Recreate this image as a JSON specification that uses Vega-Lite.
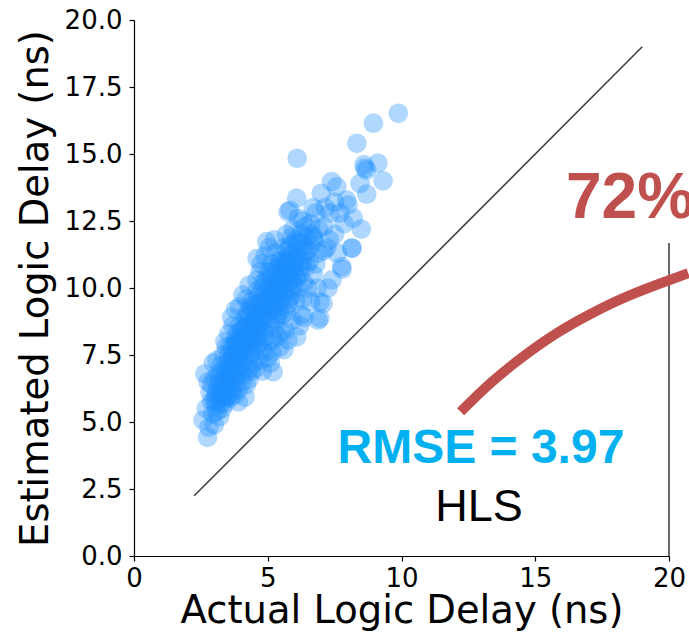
{
  "$schema": "https://vega.github.io/schema/vega-lite/v6.json",
  "width": 535,
  "height": 536,
  "autosize": {"type": "none"},
  "padding": {"left": 134, "top": 20, "right": 20, "bottom": 77},
  "background": "white",
  "config": {
    "view": {"stroke": null},
    "axis": {
      "domainColor": "#000", "tickColor": "#000", "labelColor": "#000", "titleColor": "#000",
      "labelFont": "DejaVu Sans", "titleFont": "DejaVu Sans",
      "labelFontSize": 26, "titleFontSize": 38.5, "titleFontWeight": "normal",
      "tickSize": 5, "grid": false, "domainWidth": 1.2, "tickWidth": 1.2,
      "labelFlush": false, "labelOverlap": false
    }
  },
  "datasets": {
    "diag": [{"x": 2.25, "y": 2.25}, {"x": 19, "y": 19}],
    "frame": [{"x": 20, "y": 0, "y2": 11.68}],
    "curve": [
      {"x": 12.21, "y": 5.38}, {"x": 13.31, "y": 6.44}, {"x": 14.55, "y": 7.44}, {"x": 15.8, "y": 8.31},
      {"x": 17.05, "y": 9.02}, {"x": 18.29, "y": 9.62}, {"x": 19.54, "y": 10.12}, {"x": 20.72, "y": 10.55}
    ],
    "notes": [
      {"x": 12.97, "y": 3.47, "label": "RMSE = 3.97"},
      {"x": 12.9, "y": 1.32, "label": "HLS"},
      {"x": 16.15, "y": 12.61, "label": "72%"}
    ],
    "points": [
      {"x":2.75,"y":4.43},{"x":2.58,"y":5.07},{"x":2.9,"y":5.76},{"x":2.77,"y":6.5},{"x":2.96,"y":7.2},{"x":2.7,"y":5.5},{"x":2.85,"y":6.1},{"x":3.0,"y":4.9},{"x":2.65,"y":6.8},{"x":2.95,"y":5.3},{"x":2.8,"y":4.8},{"x":3.0,"y":6.6},
      {"x":3.1,"y":5.4},{"x":3.2,"y":5.9},{"x":3.3,"y":6.2},{"x":3.15,"y":6.8},{"x":3.4,"y":5.7},{"x":3.25,"y":7.1},{"x":3.45,"y":6.5},{"x":3.05,"y":6.0},{"x":3.35,"y":7.5},{"x":3.2,"y":5.2},{"x":3.5,"y":6.0},{"x":3.4,"y":6.9},{"x":3.1,"y":7.3},{"x":3.3,"y":5.5},{"x":3.45,"y":7.8},{"x":3.15,"y":6.3},{"x":3.35,"y":6.6},{"x":3.25,"y":5.7},{"x":3.5,"y":7.2},{"x":3.05,"y":5.6},{"x":3.4,"y":8.0},{"x":3.3,"y":6.9},{"x":3.2,"y":6.5},{"x":3.45,"y":5.9},{"x":3.5,"y":6.7},
      {"x":3.6,"y":5.9},{"x":3.7,"y":6.3},{"x":3.8,"y":6.8},{"x":3.9,"y":5.75},{"x":3.65,"y":7.4},{"x":3.75,"y":7.9},{"x":3.85,"y":8.3},{"x":3.95,"y":7.1},{"x":3.6,"y":6.6},{"x":3.7,"y":8.6},{"x":3.8,"y":9.2},{"x":3.9,"y":8.0},{"x":3.55,"y":7.0},{"x":3.65,"y":6.1},{"x":3.75,"y":7.3},{"x":3.85,"y":6.5},{"x":3.95,"y":8.6},{"x":4.0,"y":7.6},{"x":3.6,"y":7.8},{"x":3.7,"y":6.9},{"x":3.8,"y":7.6},{"x":3.9,"y":6.2},{"x":3.55,"y":8.3},{"x":3.65,"y":8.9},{"x":3.75,"y":6.0},{"x":3.85,"y":7.0},{"x":3.95,"y":9.3},{"x":3.7,"y":7.5},{"x":3.8,"y":8.1},{"x":3.9,"y":7.4},
      {"x":4.15,"y":5.93},{"x":4.07,"y":9.74},{"x":4.05,"y":6.5},{"x":4.1,"y":7.2},{"x":4.2,"y":7.8},{"x":4.3,"y":8.3},{"x":4.4,"y":6.9},{"x":4.25,"y":9.1},{"x":4.35,"y":7.5},{"x":4.45,"y":8.8},{"x":4.1,"y":8.5},{"x":4.2,"y":6.4},{"x":4.3,"y":7.0},{"x":4.4,"y":9.5},{"x":4.05,"y":7.9},{"x":4.15,"y":8.9},{"x":4.25,"y":7.3},{"x":4.35,"y":8.0},{"x":4.45,"y":7.6},{"x":4.5,"y":9.0},{"x":4.2,"y":9.6},{"x":4.3,"y":6.6},{"x":4.4,"y":8.4},{"x":4.1,"y":6.8},{"x":4.25,"y":8.6},{"x":4.35,"y":9.3},{"x":4.45,"y":7.2},{"x":4.15,"y":7.5},{"x":4.5,"y":8.1},{"x":4.3,"y":10.1},
      {"x":4.55,"y":7.0},{"x":4.6,"y":7.9},{"x":4.7,"y":8.5},{"x":4.8,"y":9.2},{"x":4.9,"y":7.6},{"x":4.71,"y":10.6},{"x":4.96,"y":11.73},{"x":4.65,"y":9.7},{"x":4.75,"y":8.0},{"x":4.85,"y":10.2},{"x":4.95,"y":8.8},{"x":4.6,"y":10.3},{"x":4.7,"y":7.3},{"x":4.8,"y":6.9},{"x":4.9,"y":9.6},{"x":4.55,"y":8.6},{"x":4.65,"y":9.0},{"x":4.75,"y":10.9},{"x":4.85,"y":8.4},{"x":4.95,"y":9.9},{"x":5.0,"y":10.6},{"x":4.6,"y":11.1},{"x":4.7,"y":9.4},{"x":4.8,"y":7.7},{"x":4.9,"y":11.2},{"x":4.55,"y":9.4},{"x":4.8,"y":10.0},{"x":4.9,"y":8.2},{"x":4.65,"y":8.2},{"x":5.0,"y":7.4},
      {"x":5.2,"y":6.87},{"x":5.05,"y":8.0},{"x":5.1,"y":8.7},{"x":5.15,"y":9.3},{"x":5.25,"y":10.0},{"x":5.3,"y":10.5},{"x":5.35,"y":9.0},{"x":5.4,"y":8.2},{"x":5.45,"y":11.0},{"x":5.5,"y":9.6},{"x":5.05,"y":11.5},{"x":5.1,"y":10.2},{"x":5.15,"y":7.6},{"x":5.25,"y":8.5},{"x":5.3,"y":11.3},{"x":5.35,"y":9.8},{"x":5.4,"y":10.8},{"x":5.45,"y":7.8},{"x":5.5,"y":10.2},{"x":5.05,"y":9.1},{"x":5.1,"y":7.2},{"x":5.2,"y":9.6},{"x":5.3,"y":8.8},{"x":5.4,"y":9.3},{"x":5.5,"y":8.4},{"x":5.15,"y":10.9},{"x":5.25,"y":11.8},{"x":5.35,"y":10.3},{"x":5.45,"y":9.1},{"x":5.2,"y":8.1},
      {"x":5.76,"y":8.06},{"x":5.76,"y":12.84},{"x":5.83,"y":12.9},{"x":5.55,"y":9.0},{"x":5.6,"y":9.8},{"x":5.65,"y":10.5},{"x":5.7,"y":11.0},{"x":5.75,"y":9.4},{"x":5.8,"y":10.2},{"x":5.85,"y":11.6},{"x":5.9,"y":8.8},{"x":5.95,"y":10.8},{"x":5.6,"y":11.5},{"x":5.65,"y":8.4},{"x":5.7,"y":12.0},{"x":5.8,"y":11.2},{"x":5.9,"y":9.7},{"x":5.55,"y":10.8},{"x":6.0,"y":11.3},{"x":5.7,"y":9.1},{"x":5.85,"y":10.5},{"x":5.95,"y":12.2},{"x":5.6,"y":7.7},{"x":5.75,"y":10.9},{"x":5.9,"y":11.9},
      {"x":6.1,"y":14.84},{"x":6.08,"y":13.35},{"x":6.08,"y":8.18},{"x":6.05,"y":9.5},{"x":6.1,"y":10.4},{"x":6.2,"y":11.0},{"x":6.25,"y":9.0},{"x":6.3,"y":11.7},{"x":6.35,"y":10.2},{"x":6.4,"y":12.3},{"x":6.45,"y":10.8},{"x":6.15,"y":12.6},{"x":6.2,"y":8.6},{"x":6.3,"y":9.6},{"x":6.4,"y":11.3},{"x":6.05,"y":11.8},{"x":6.25,"y":12.0},{"x":6.35,"y":8.9},{"x":6.5,"y":10.0},{"x":6.15,"y":10.0},
      {"x":6.95,"y":8.88},{"x":6.95,"y":9.48},{"x":6.88,"y":8.8},{"x":7.0,"y":13.53},{"x":6.55,"y":11.0},{"x":6.6,"y":12.4},{"x":6.7,"y":10.5},{"x":6.75,"y":11.8},{"x":6.8,"y":12.8},{"x":6.85,"y":10.0},{"x":6.6,"y":9.5},{"x":6.7,"y":13.0},{"x":6.9,"y":11.3},{"x":6.65,"y":12.0},{"x":6.8,"y":10.9},
      {"x":7.07,"y":9.43},{"x":7.39,"y":13.97},{"x":7.58,"y":13.78},{"x":7.33,"y":12.8},{"x":7.76,"y":10.8},{"x":7.78,"y":10.7},{"x":7.95,"y":13.28},{"x":7.2,"y":11.5},{"x":7.1,"y":12.3},{"x":7.5,"y":12.0},{"x":7.4,"y":10.3},{"x":7.6,"y":11.3},{"x":7.25,"y":10.0},{"x":7.85,"y":12.4},{"x":7.15,"y":13.0},
      {"x":8.15,"y":11.5},{"x":8.14,"y":11.48},{"x":8.0,"y":13.1},{"x":8.33,"y":15.4},{"x":8.95,"y":16.15},{"x":9.88,"y":16.52},{"x":8.63,"y":14.47},{"x":8.6,"y":14.6},{"x":8.7,"y":14.4},{"x":9.12,"y":14.66},{"x":9.31,"y":14.0},{"x":8.45,"y":13.9},{"x":8.2,"y":12.6},{"x":8.5,"y":12.2},{"x":8.7,"y":13.5},
      {"x":3.3,"y":6.0},{"x":3.4,"y":6.3},{"x":3.5,"y":6.4},{"x":3.6,"y":6.9},{"x":3.7,"y":7.1},{"x":3.8,"y":7.3},{"x":3.9,"y":7.8},{"x":4.0,"y":8.1},{"x":4.1,"y":7.7},{"x":4.2,"y":8.2},{"x":4.3,"y":8.7},{"x":4.4,"y":8.0},{"x":4.5,"y":8.5},{"x":4.6,"y":8.8},{"x":4.7,"y":9.1},{"x":4.8,"y":8.7},{"x":4.9,"y":9.3},{"x":5.0,"y":9.5},{"x":5.1,"y":9.7},{"x":5.2,"y":10.1},{"x":5.3,"y":9.5},{"x":5.4,"y":9.9},{"x":5.5,"y":10.5},{"x":5.6,"y":10.2},{"x":5.7,"y":10.4},{"x":5.8,"y":10.7},{"x":5.9,"y":10.3},{"x":6.0,"y":10.6},{"x":6.1,"y":11.1},{"x":6.2,"y":10.5},
      {"x":3.55,"y":6.2},{"x":3.65,"y":6.7},{"x":3.75,"y":6.6},{"x":3.85,"y":7.6},{"x":3.95,"y":7.7},{"x":4.05,"y":8.3},{"x":4.15,"y":8.0},{"x":4.25,"y":7.9},{"x":4.35,"y":8.6},{"x":4.45,"y":8.2},{"x":4.55,"y":9.1},{"x":4.65,"y":8.6},{"x":4.75,"y":9.5},{"x":4.85,"y":9.0},{"x":4.95,"y":9.4},{"x":5.05,"y":10.0},{"x":5.15,"y":9.9},{"x":5.25,"y":9.2},{"x":5.35,"y":10.7},{"x":5.45,"y":10.0},{"x":5.55,"y":9.5},{"x":5.65,"y":9.9},{"x":5.75,"y":11.4},{"x":5.85,"y":9.9},{"x":5.95,"y":11.0},{"x":6.05,"y":10.4},{"x":6.15,"y":11.4},{"x":6.25,"y":10.8},{"x":6.35,"y":11.6},{"x":6.45,"y":11.9},
      {"x":3.1,"y":6.1},{"x":3.2,"y":6.0},{"x":3.0,"y":5.8},{"x":2.9,"y":6.4},{"x":3.35,"y":5.9},{"x":3.6,"y":7.3},{"x":4.0,"y":6.9},{"x":4.4,"y":7.8},{"x":4.6,"y":9.9},{"x":5.1,"y":10.6},{"x":5.3,"y":9.9},{"x":5.6,"y":11.0},{"x":5.8,"y":9.6},{"x":6.3,"y":12.5},{"x":6.6,"y":11.6},{"x":6.9,"y":12.2},{"x":7.1,"y":11.4},{"x":7.3,"y":11.8},{"x":7.5,"y":13.2},{"x":7.7,"y":12.8},
      {"x":3.25,"y":6.4},{"x":3.45,"y":6.8},{"x":3.55,"y":7.5},{"x":3.7,"y":7.7},{"x":3.85,"y":7.9},{"x":4.0,"y":8.4},{"x":4.1,"y":8.1},{"x":4.2,"y":8.6},{"x":4.3,"y":9.0},{"x":4.45,"y":9.2},{"x":4.55,"y":8.3},{"x":4.7,"y":8.8},{"x":4.85,"y":9.7},{"x":4.95,"y":10.3},{"x":5.1,"y":9.2},{"x":5.2,"y":10.5},{"x":5.35,"y":10.1},{"x":5.5,"y":11.0},{"x":5.65,"y":10.8},{"x":5.8,"y":11.5},{"x":5.95,"y":10.1},{"x":6.1,"y":11.7},{"x":6.3,"y":11.0},{"x":6.5,"y":11.4},{"x":6.7,"y":11.9}
    ]
  },
  "encoding": {
    "x": {"field": "x", "type": "quantitative", "scale": {"domain": [0, 20], "nice": false, "zero": false},
          "axis": {"title": "Actual Logic Delay (ns)", "values": [0, 5, 10, 15, 20], "format": "d", "labelPadding": 4, "titlePadding": 1}},
    "y": {"field": "y", "type": "quantitative", "scale": {"domain": [0, 20], "nice": false, "zero": false},
          "axis": {"title": "Estimated Logic Delay (ns)", "values": [0, 2.5, 5, 7.5, 10, 12.5, 15, 17.5, 20], "format": ".1f", "labelPadding": 7, "titlePadding": 9}}
  },
  "layer": [
    {"data": {"name": "diag"}, "mark": {"type": "line", "color": "#404040", "strokeWidth": 1.6}},
    {"data": {"name": "points"}, "mark": {"type": "circle", "color": "#1e90ff", "opacity": 0.35, "size": 390, "strokeWidth": 0}},
    {"data": {"name": "frame"}, "mark": {"type": "rule", "color": "#000", "strokeWidth": 1.2}, "encoding": {"y2": {"field": "y2"}}},
    {"data": {"name": "curve"}, "mark": {"type": "line", "color": "#c0504d", "strokeWidth": 10, "clip": false, "interpolate": "natural", "strokeCap": "butt"}},
    {"data": {"name": "notes"}, "transform": [{"filter": "datum.label === 'RMSE = 3.97'"}],
     "mark": {"type": "text", "font": "Liberation Sans", "fontWeight": "bold", "fontSize": 48, "color": "#00b0f0", "align": "center", "baseline": "alphabetic"},
     "encoding": {"text": {"field": "label"}}},
    {"data": {"name": "notes"}, "transform": [{"filter": "datum.label === 'HLS'"}],
     "mark": {"type": "text", "font": "Liberation Sans", "fontSize": 45, "color": "#000", "align": "center", "baseline": "alphabetic"},
     "encoding": {"text": {"field": "label"}}},
    {"data": {"name": "notes"}, "transform": [{"filter": "datum.label === '72%'"}],
     "mark": {"type": "text", "font": "Liberation Sans", "fontWeight": "bold", "fontSize": 64, "color": "#c0504d", "align": "left", "baseline": "alphabetic", "clip": false},
     "encoding": {"text": {"field": "label"}}}
  ]
}
